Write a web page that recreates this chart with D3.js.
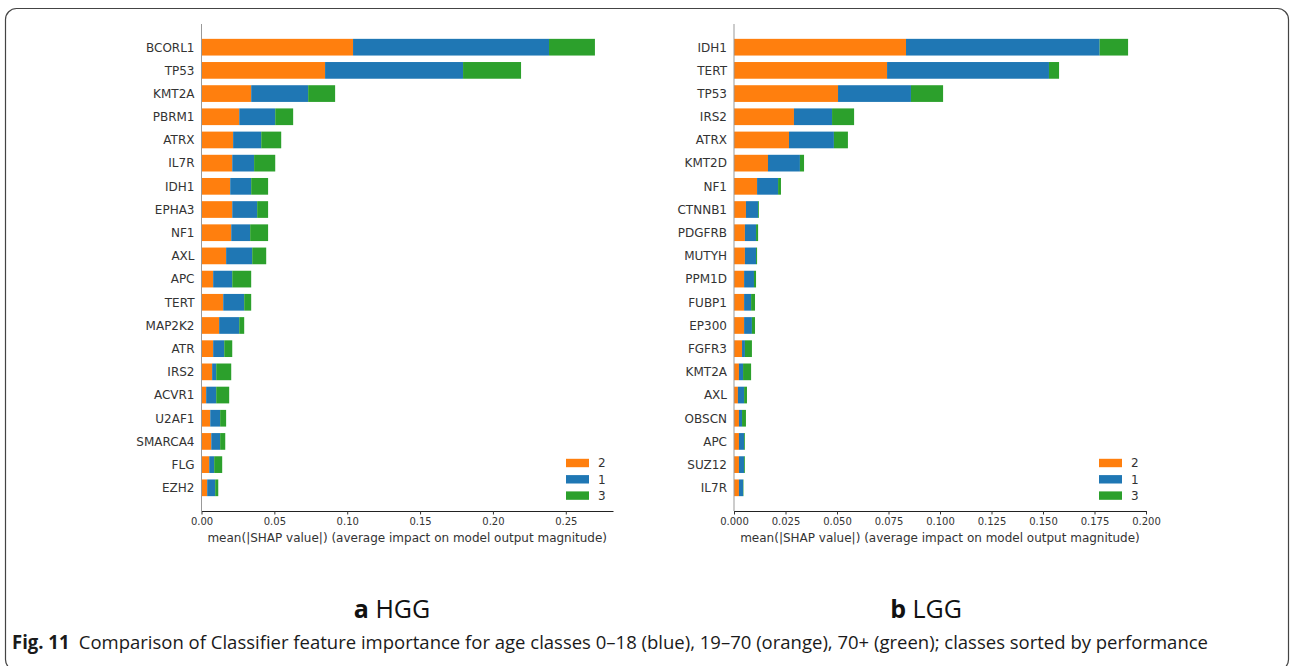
<!DOCTYPE html>
<html lang="en">
<head>
    <meta charset="UTF-8">
    <title>Fig. 11 feature importance</title>
    <script src="https://d3js.org/d3.v7.min.js"></script>
    <style>
        body { margin: 0; background: #fff; }
        svg text { font-family: "DejaVu Sans", sans-serif; }
        .caption { font-family: "Open Sans", sans-serif !important; }
    </style>
</head>
<body>
<svg id="fig" width="1290" height="666"></svg>

<script>
    // colours for the classes, legend order is 2, 1, 3
    let classNames = ["2", "1", "3"];
    let classColors = ["#ff7f0e", "#1f77b4", "#2ca02c"];

    // panel a: HGG
    let hggGenes = ["BCORL1", "TP53", "KMT2A", "PBRM1", "ATRX", "IL7R", "IDH1", "EPHA3", "NF1", "AXL",
        "APC", "TERT", "MAP2K2", "ATR", "IRS2", "ACVR1", "U2AF1", "SMARCA4", "FLG", "EZH2"];
    let hggClass2 = [0.1040, 0.0848, 0.0341, 0.0259, 0.0217, 0.0211, 0.0197, 0.0211, 0.0204, 0.0169,
        0.0080, 0.0149, 0.0121, 0.0080, 0.0073, 0.0032, 0.0060, 0.0067, 0.0053, 0.0039];
    let hggClass1 = [0.1345, 0.0947, 0.0391, 0.0247, 0.0193, 0.0150, 0.0144, 0.0171, 0.0130, 0.0179,
        0.0131, 0.0144, 0.0138, 0.0076, 0.0028, 0.0069, 0.0068, 0.0061, 0.0034, 0.0055];
    let hggClass3 = [0.0315, 0.0398, 0.0185, 0.0123, 0.0137, 0.0145, 0.0116, 0.0075, 0.0123, 0.0096,
        0.0130, 0.0048, 0.0034, 0.0055, 0.0103, 0.0089, 0.0041, 0.0035, 0.0055, 0.0021];
    let hggTicks = [0, 0.05, 0.10, 0.15, 0.20, 0.25];

    // panel b: LGG
    let lggGenes = ["IDH1", "TERT", "TP53", "IRS2", "ATRX", "KMT2D", "NF1", "CTNNB1", "PDGFRB", "MUTYH",
        "PPM1D", "FUBP1", "EP300", "FGFR3", "KMT2A", "AXL", "OBSCN", "APC", "SUZ12", "IL7R"];
    let lggClass2 = [0.0835, 0.0743, 0.0505, 0.0291, 0.0267, 0.0165, 0.0112, 0.0058, 0.0053, 0.0053,
        0.0049, 0.0049, 0.0049, 0.0039, 0.0024, 0.0019, 0.0024, 0.0024, 0.0024, 0.0024];
    let lggClass1 = [0.0940, 0.0786, 0.0354, 0.0185, 0.0218, 0.0155, 0.0102, 0.0059, 0.0054, 0.0054,
        0.0048, 0.0034, 0.0038, 0.0014, 0.0020, 0.0030, 0.0015, 0.0025, 0.0025, 0.0020];
    let lggClass3 = [0.0138, 0.0049, 0.0156, 0.0107, 0.0068, 0.0020, 0.0014, 0.0004, 0.0010, 0.0005,
        0.0010, 0.0019, 0.0015, 0.0034, 0.0039, 0.0014, 0.0019, 0.0004, 0.0004, 0.0002];
    let lggTicks = [0, 0.025, 0.05, 0.075, 0.10, 0.125, 0.15, 0.175, 0.20];

    let xLabel = "mean(|SHAP value|) (average impact on model output magnitude)";

    let svg = d3.select("#fig");

    // rounded frame round the whole figure
    svg.append("rect")
        .attr("x", 5.5).attr("y", 8.5)
        .attr("width", 1283).attr("height", 662)
        .attr("rx", 11)
        .attr("fill", "none")
        .attr("stroke", "#444")
        .attr("stroke-width", 1.2);

    function drawPanel(opts) {
        let g = svg.append("g");

        let x = d3.scaleLinear().domain(opts.xDomain).range([opts.left, opts.right]);
        let y = d3.scalePoint().domain(opts.genes).range([opts.top, opts.bottom]).padding(1);
        let barH = y.step() * 0.72;

        // stack the three classes in legend order
        let rows = opts.genes.map((gene, i) => {
            let vals = [opts.c2[i], opts.c1[i], opts.c3[i]];
            let start = 0;
            return vals.map((v, k) => {
                let seg = {gene: gene, k: k, x0: start, x1: start + v};
                start += v;
                return seg;
            });
        }).flat();

        g.selectAll("rect.bar")
            .data(rows)
            .join("rect")
            .attr("class", "bar")
            .attr("x", d => x(d.x0))
            .attr("width", d => x(d.x1) - x(d.x0))
            .attr("y", d => y(d.gene) - barH / 2)
            .attr("height", barH)
            .attr("fill", d => classColors[d.k]);

        // grey zero line
        g.append("line")
            .attr("x1", x(0)).attr("x2", x(0))
            .attr("y1", opts.top).attr("y2", opts.bottom)
            .attr("stroke", "#999999")
            .attr("stroke-width", 1);

        // gene names
        g.selectAll("text.gene")
            .data(opts.genes)
            .join("text")
            .attr("class", "gene")
            .attr("x", x(0) - 7)
            .attr("y", d => y(d))
            .attr("dy", "0.36em")
            .attr("text-anchor", "end")
            .attr("font-size", 12)
            .attr("fill", "#333333")
            .text(d => d);

        let axis = g.append("g")
            .attr("transform", `translate(0,${opts.bottom})`)
            .call(d3.axisBottom(x).tickValues(opts.ticks).tickFormat(d3.format(opts.fmt))
                .tickSize(3.5).tickPadding(3.5).tickSizeOuter(0));
        axis.select(".domain").attr("stroke", "#222").attr("stroke-width", 1);
        axis.selectAll(".tick line").attr("stroke", "#333");
        axis.selectAll(".tick text")
            .attr("font-size", 10)
            .attr("fill", "#333333")
            .style("font-family", "DejaVu Sans");

        g.append("text")
            .attr("x", (opts.left + opts.right) / 2)
            .attr("y", opts.bottom + 30.5)
            .attr("text-anchor", "middle")
            .attr("font-size", 12)
            .attr("fill", "#333333")
            .text(xLabel);

        // legend
        let leg = g.append("g").selectAll("g")
            .data(classNames)
            .join("g")
            .attr("transform", (d, i) => `translate(${opts.legX},${opts.legY + i * 16.3})`);
        leg.append("rect")
            .attr("x", 0).attr("y", -4.2)
            .attr("width", 23).attr("height", 8.4)
            .attr("fill", (d, i) => classColors[i]);
        leg.append("text")
            .attr("x", 32).attr("y", 0)
            .attr("dy", "0.36em")
            .attr("font-size", 12)
            .attr("fill", "#333333")
            .text(d => d);

        // panel title
        let t = svg.append("text")
            .attr("class", "caption")
            .attr("x", opts.titleX)
            .attr("y", 618)
            .attr("text-anchor", "middle")
            .attr("font-size", 25)
            .attr("fill", "#111");
        t.append("tspan").attr("font-weight", "bold").text(opts.letter);
        t.append("tspan").text(" " + opts.name);
    }

    drawPanel({
        genes: hggGenes, c2: hggClass2, c1: hggClass1, c3: hggClass3,
        xDomain: [0, 0.2824], ticks: hggTicks, fmt: ".2f",
        left: 201.5, right: 613, top: 24, bottom: 511,
        legX: 566, legY: 463,
        titleX: 392, letter: "a", name: "HGG"
    });

    drawPanel({
        genes: lggGenes, c2: lggClass2, c1: lggClass1, c3: lggClass3,
        xDomain: [0, 0.2], ticks: lggTicks, fmt: ".3f",
        left: 734, right: 1146, top: 24, bottom: 511,
        legX: 1099, legY: 463,
        titleX: 926, letter: "b", name: "LGG"
    });

    // figure caption
    let cap = svg.append("text")
        .attr("class", "caption")
        .attr("x", 12)
        .attr("y", 649)
        .attr("font-size", 19)
        .attr("fill", "#1a1a1a")
        .attr("textLength", 1196)
        .attr("lengthAdjust", "spacingAndGlyphs");
    cap.append("tspan").attr("font-weight", "bold").text("Fig. 11");
    cap.append("tspan").text("\u2002Comparison of Classifier feature importance for age classes 0\u201318 (blue), 19\u201370 (orange), 70+ (green); classes sorted by performance");
</script>
</body>
</html>
